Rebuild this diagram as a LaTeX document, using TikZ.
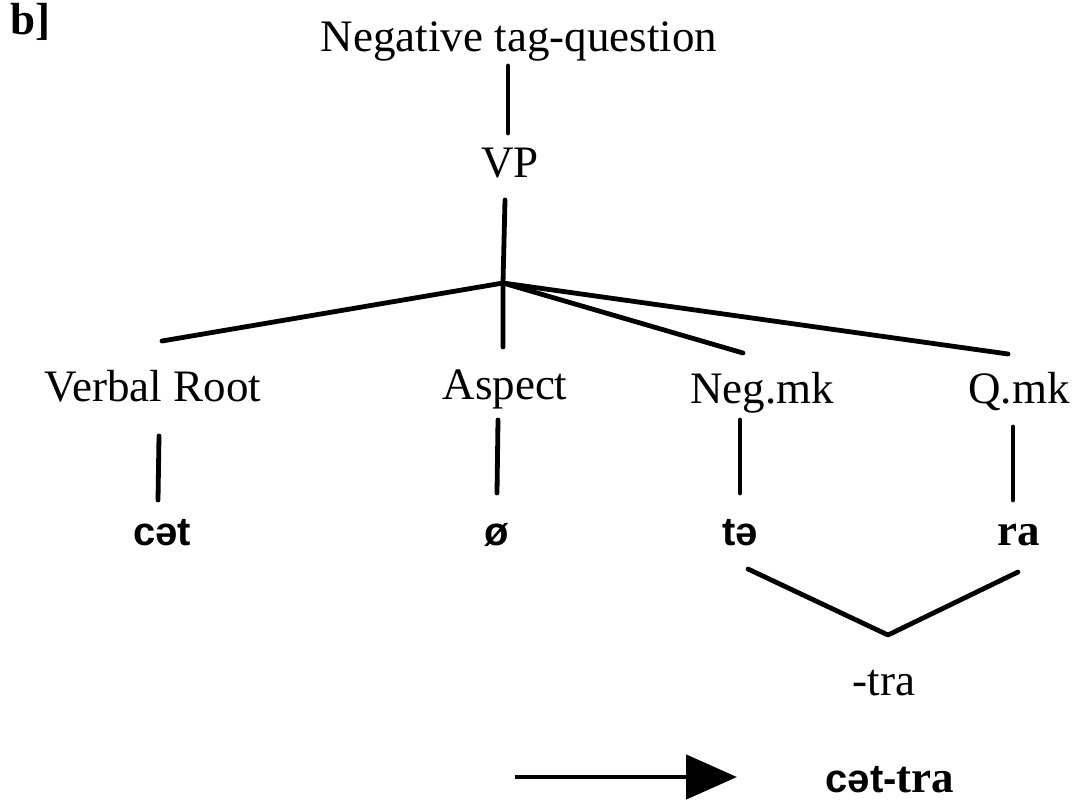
\documentclass[tikz,border=0pt]{standalone}
\usepackage{fontspec}
\setmainfont{Liberation Serif}
\newfontfamily\ipafont{Liberation Sans}
\usetikzlibrary{arrows.meta}
\tikzset{
  lbl/.style={anchor=base, inner sep=0pt, font=\fontsize{45}{54}\selectfont},
  ipa/.style={anchor=base, inner sep=0pt, font=\fontsize{40}{48}\selectfont\ipafont\bfseries},
  edge/.style={line width=4.8pt, line cap=round, line join=round},
}
\begin{document}
\begin{tikzpicture}[x=1pt,y=-1pt]
\useasboundingbox (0,0) rectangle (1082,800);
% labels
\node[lbl, anchor=base west, font=\fontsize{45}{54}\selectfont\bfseries] (b) at (10,35) {b]};
\node[lbl] (top) at (519,52) {Negative tag-question};
\node[lbl] (vp) at (510,177) {VP};
\node[lbl] (vr) at (153,401) {Verbal Root};
\node[lbl] (asp) at (505,399) {Aspect};
\node[lbl] (neg) at (762,403) {Neg.mk};
\node[lbl] (q) at (1019,403) {Q.mk};
\node[ipa] (cat) at (162,545) {cət};
\node[ipa] (zero) at (497,545) {ø};
\node[ipa] (te) at (740,545) {tə};
\node[lbl, font=\fontsize{45}{54}\selectfont\bfseries] (ra) at (1019,545) {ra};
\node[lbl] (tra) at (884,695) {-tra};
\node[lbl] (result) at (890,792) {{\fontsize{40}{48}\selectfont\ipafont\bfseries cət-}{\bfseries tra}};
% connector end points
\coordinate (topb) at (508,66);
\coordinate (vpt) at (508,133);
\coordinate (vpb) at (505,200);
\coordinate (j) at (503,283);
\coordinate (aspt) at (503,347);
\coordinate (vrt) at (162,341);
\coordinate (negt) at (743,353);
\coordinate (qt) at (1008,354);
\coordinate (vrb) at (159,436);
\coordinate (catt) at (158,500);
\coordinate (aspb) at (498,420);
\coordinate (zerot) at (497,493);
\coordinate (negb) at (740,420);
\coordinate (tet) at (740,493);
\coordinate (qb) at (1013,427);
\coordinate (rat) at (1013,500);
\coordinate (teb) at (748,569);
\coordinate (vtip) at (888,635);
\coordinate (rab) at (1018,572);
\coordinate (arra) at (515,777);
\coordinate (arrb) at (737,777);
% connectors
\draw[edge] (topb) -- (vpt);
\draw[edge] (vpb) -- (j) -- (aspt);
\draw[edge] (j) -- (vrt);
\draw[edge] (j) -- (negt);
\draw[edge] (j) -- (qt);
\draw[edge] (vrb) -- (catt);
\draw[edge] (aspb) -- (zerot);
\draw[edge] (negb) -- (tet);
\draw[edge] (qb) -- (rat);
\draw[edge] (teb) -- (vtip) -- (rab);
\draw[edge, line cap=butt, -{Triangle[length=51pt,width=44pt]}] (arra) -- (arrb);
\end{tikzpicture}
\end{document}
